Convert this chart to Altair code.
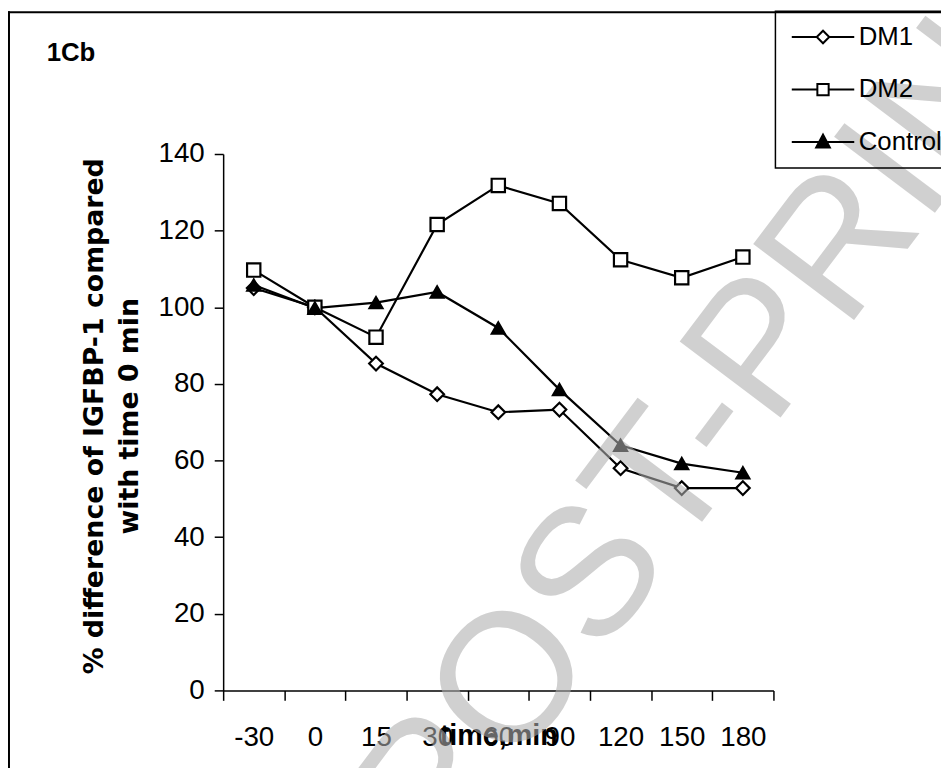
import altair as alt
import pandas as pd

times = ["-30", "0", "15", "30", "60", "90", "120", "150", "180"]
dm1 = [105.0, 100.0, 85.3, 77.3, 72.6, 73.3, 58.0, 52.8, 52.8]
dm2 = [109.7, 100.0, 92.2, 121.6, 131.8, 127.1, 112.4, 107.7, 113.1]
control = [105.8, 99.8, 101.2, 104.0, 94.6, 78.5, 64.0, 59.2, 56.8]
series = ["DM1", "DM2", "Control"]
y_ticks = [0, 20, 40, 60, 80, 100, 120, 140]

rows = []
for name, vals in zip(series, [dm1, dm2, control]):
    for t, v in zip(times, vals):
        rows.append({"time": t, "value": v, "series": name})
df = pd.DataFrame(rows)

FONT = "Liberation Sans"
W, H = 555, 541
PL, PT = 217, 144
SVG_W, SVG_H = 941, 760

x_enc = alt.X(
    "time:O", sort=times,
    scale=alt.Scale(type="band", paddingInner=0, paddingOuter=0),
    bandPosition=0.5,
    axis=alt.Axis(
        title="time,min", tickBand="extent", labelAngle=0, labelFontSize=28,
        labelFont=FONT, labelColor="black", labelPadding=24, tickSize=10,
        titleFont=FONT, titleFontSize=29, titleFontWeight="bold", titleColor="black",
        titleY=46, titleBaseline="middle",
    ),
)
y_enc = alt.Y(
    "value:Q",
    scale=alt.Scale(domain=[0, 140], nice=False, zero=True),
    axis=alt.Axis(
        values=y_ticks, title=["% difference of IGFBP-1 compared", "with time 0 min"],
        labelFontSize=28, labelFont=FONT, labelColor="black", labelPadding=10, tickSize=9,
        titleFont="DejaVu Sans", titleFontSize=27, titleFontWeight="bold", titleColor="black",
        titleAngle=270, titleX=-130, titleY=264, titleBaseline="middle", titleLineHeight=36,
        grid=False,
    ),
)

base = alt.Chart(df).encode(x=x_enc, y=y_enc)

lines = base.mark_line(color="black", strokeWidth=2.2).encode(detail="series:N")

points = base.mark_point(filled=True, stroke="black", strokeWidth=2.2, opacity=1).encode(
    shape=alt.Shape("series:N", scale=alt.Scale(domain=series, range=["diamond", "square", "triangle-up"]), legend=None),
    fill=alt.Fill("series:N", scale=alt.Scale(domain=series, range=["white", "white", "black"]), legend=None),
    size=alt.Size("series:N", scale=alt.Scale(domain=series, range=[190, 170, 220]), legend=None),
)

leg_paths = [
    "M-5.25,0L-1.05,0M1.05,0L5.25,0M-1.05,0L0,-1.05L1.05,0L0,1.05Z",
    "M-5.25,0L-0.95,0M0.95,0L5.25,0M-0.95,-0.95L0.95,-0.95L0.95,0.95L-0.95,0.95Z",
    "M-5.25,0L5.25,0M-1.15,0.9L1.15,0.9L0,-1.25Z",
]
legend_kw = dict(
    title=None, orient="none", legendX=782 - 8 - PL, legendY=0 - PT,
    padding=13, symbolOffset=22, labelOffset=23, symbolSize=144,
    symbolStrokeColor="black", symbolStrokeWidth=2, symbolOpacity=1,
    labelFont=FONT, labelFontSize=26, labelColor="black", rowPadding=27,
    strokeColor="black", labelLimit=400,
)
legend_layer = base.mark_point(filled=True, opacity=0, size=1).encode(
    shape=alt.Shape("series:N", scale=alt.Scale(domain=series, range=leg_paths), legend=alt.Legend(**legend_kw)),
    fill=alt.Fill("series:N", scale=alt.Scale(domain=series, range=["white", "white", "black"]), legend=alt.Legend(**legend_kw)),
    stroke=alt.Stroke("series:N", scale=alt.Scale(domain=series, range=["black", "black", "black"]), legend=alt.Legend(**legend_kw)),
)

one = pd.DataFrame({"t": ["POST-PRINT"], "lab": ["1Cb"]})
frame_top = alt.Chart(one).mark_rule(color="black", strokeWidth=2).encode(
    x=alt.value(-PL), x2=alt.value(SVG_W), y=alt.value(-PT + 1))
frame_left = alt.Chart(one).mark_rule(color="black", strokeWidth=2).encode(
    x=alt.value(-PL + 1), y=alt.value(-PT), y2=alt.value(SVG_H))
label = alt.Chart(one).mark_text(font=FONT, fontSize=26, fontWeight="bold", align="left",
                                 baseline="middle", color="black").encode(
    text="lab:N", x=alt.value(47 - 8 - PL), y=alt.value(50 - 8 - PT))
watermark = alt.Chart(one).mark_text(font=FONT, fontSize=185, angle=307, align="center",
                                     baseline="alphabetic", color="#afafaf", opacity=0.58).encode(
    text="t:N", x=alt.value(778 - 8 - PL), y=alt.value(430 - 8 - PT))

chart = alt.layer(frame_top, frame_left, label, lines, points, legend_layer, watermark).resolve_scale(
    shape="independent", fill="independent", stroke="independent", size="independent"
).properties(
    width=W, height=H,
    autosize=alt.AutoSizeParams(type="none"),
    padding={"left": PL, "top": PT, "right": SVG_W - PL - W, "bottom": SVG_H - PT - H},
).configure_view(stroke=None).configure_axis(
    domainColor="black", tickColor="black", domainWidth=1.5, tickWidth=1.5,
).configure_legend(strokeWidth=1.5)

chart.save("out.html", embed_options={"renderer": "svg", "actions": False})
